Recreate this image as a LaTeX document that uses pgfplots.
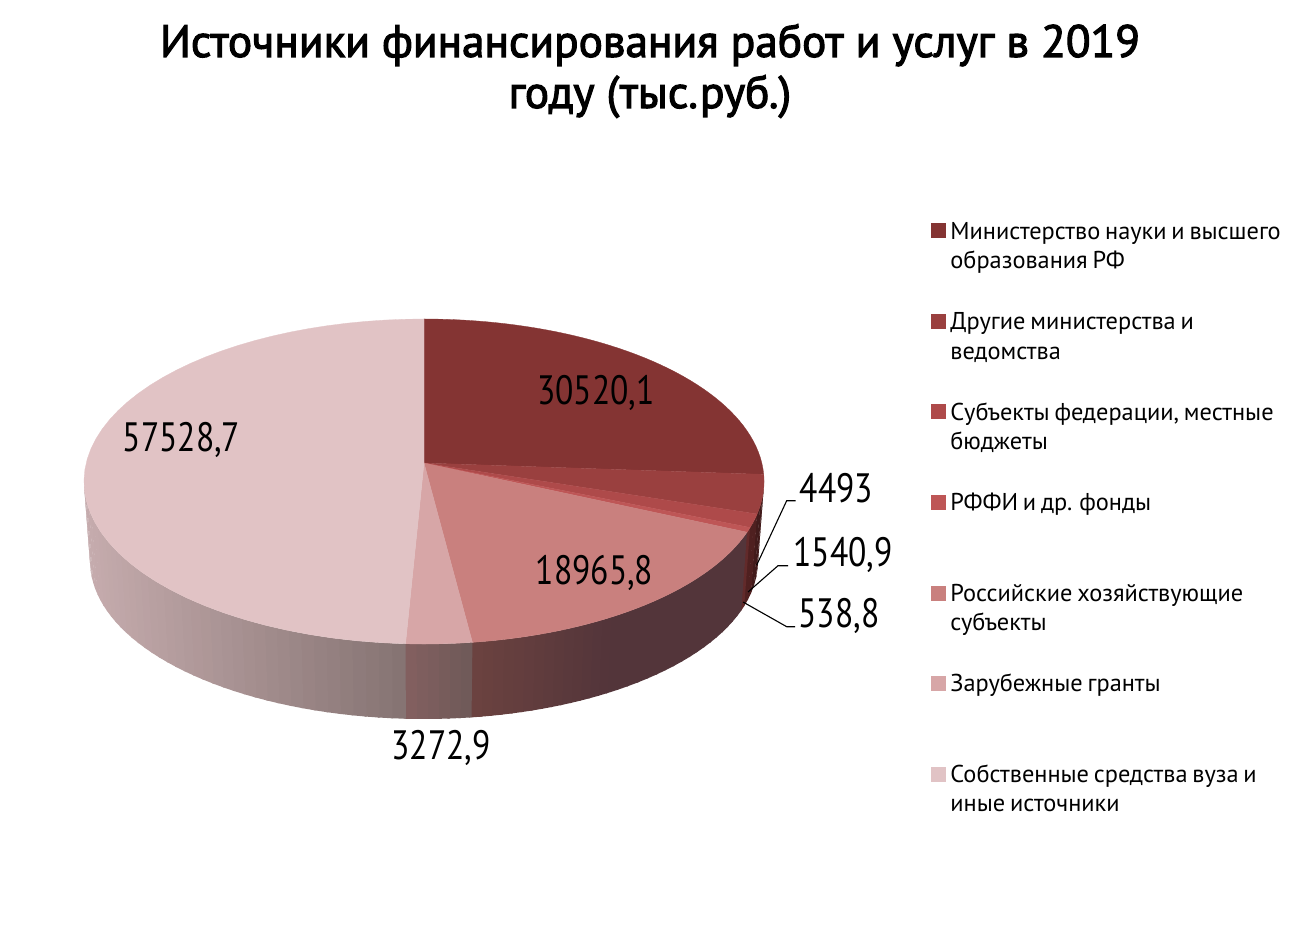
\documentclass[border=0pt]{standalone}
\usepackage{fontspec}
\usepackage{pgfplots}
\pgfplotsset{compat=1.18}
\setmainfont{PT Sans}
% source values (thousand roubles)
\def\total{116860.2}
\edef\tA{\fpeval{360*(30520.1)/\total}}
\edef\tB{\fpeval{360*(30520.1+4493)/\total}}
\edef\tC{\fpeval{360*(30520.1+4493+1540.9)/\total}}
\edef\tD{\fpeval{360*(30520.1+4493+1540.9+538.8)/\total}}
\edef\tE{\fpeval{360*(30520.1+4493+1540.9+538.8+18965.8)/\total}}
\edef\tF{\fpeval{360*(30520.1+4493+1540.9+538.8+18965.8+3272.9)/\total}}
\newcommand\RX[1]{\fpeval{round(424+337.8*sind(#1)/(1+0.1138*cosd(#1)),2)}}
\newcommand\RY[1]{\fpeval{round(463-160.4*cosd(#1)/(1+0.1138*cosd(#1)),2)}}
\newcommand\BX[1]{\fpeval{round(424+0.982*337.8*sind(#1)/(1+0.1138*cosd(#1)),2)}}
\newcommand\BY[1]{\fpeval{round(560+0.9695*(463-160.4*cosd(#1)/(1+0.1138*cosd(#1))-480),2)}}
\definecolor{sa}{HTML}{843433}
\definecolor{sb}{HTML}{9A403F}
\definecolor{sc}{HTML}{AE4A4A}
\definecolor{sd}{HTML}{BE5656}
\definecolor{se}{HTML}{C9807E}
\definecolor{sf}{HTML}{D7A6A7}
\definecolor{sg}{HTML}{E1C3C5}
% top wedge from angle #1 to #2 in colour #3
\newcommand\wedgeplot[3]{%
  \gdef\cl{(424,463)}%
  \foreach \i in {0,...,48}{%
    \edef\tv{\fpeval{#1+(#2-(#1))*\i/48}}%
    \xdef\cl{\cl (\RX{\tv},\RY{\tv})}%
  }%
  \edef\tmp{\noexpand\addplot[fill=#3,draw=#3,line width=0.3pt,forget plot] coordinates {\cl (424,463)};}\tmp
}
% side strips from #1 to #2, #3 strips, colour mixing (linear in x) from #4 (start) to #5 (end)
\newcommand\sideplot[5]{%
  \foreach \i in {1,...,#3}{%
    \edef\ta{\fpeval{#1+(#2-(#1))*(\i-1)/#3}}%
    \edef\tb{\fpeval{#1+(#2-(#1))*\i/#3+0.35}}%
    \edef\tm{\fpeval{\ta+(#2-(#1))*0.5/#3}}%
    \edef\p{\fpeval{round(100*(\RX{\tm}-\RX{#1})/(\RX{#2}-\RX{#1}),1)}}%
    \edef\tmp{\noexpand\addplot[fill={#5!\p!#4},draw=none,forget plot] coordinates {(\RX{\ta},\RY{\ta}) (\RX{\tb},\RY{\tb}) (\BX{\tb},\BY{\tb}) (\BX{\ta},\BY{\ta}) (\RX{\ta},\RY{\ta})};}\tmp
  }%
}
\definecolor{wa}{HTML}{421B1B}
\definecolor{wb}{HTML}{4F2020}
\definecolor{wc}{HTML}{622A2A}
\definecolor{wd}{HTML}{53353A}
\definecolor{wf}{HTML}{6C4240}
\definecolor{wg}{HTML}{846060}
\definecolor{wh}{HTML}{6E5A58}
\definecolor{wi}{HTML}{857372}
\definecolor{wj}{HTML}{C6ACAE}
\newcommand\lab[3]{\node[anchor=center,inner sep=0pt] at (axis cs:#1,#2) {\fontsize{41}{41}\selectfont\scalebox{0.82}[1]{#3}};}
\newcommand\leg[1]{\parbox[t]{345pt}{\raggedright\spaceskip=4.8pt\strut #1}}
\begin{document}
\begin{tikzpicture}
\path[use as bounding box] (0,0) rectangle (1299pt,945pt);
\begin{axis}[
  at={(0pt,0pt)},anchor=south west,
  scale only axis,width=1299pt,height=945pt,
  xmin=0,xmax=1299,ymin=0,ymax=945,y dir=reverse,
  hide axis,clip=false,
  legend image code/.code={\fill[#1] (0pt,-8pt) rectangle (13.5pt,6pt);\path (19pt,0pt);},
  legend style={at={(axis cs:931,218.5)},anchor=north west,draw=none,fill=none,
    inner sep=0pt,outer sep=0pt,
    row sep=68.4pt,column sep=0pt,
    nodes={inner sep=0pt,outer sep=0pt},
    font=\fontsize{24.35}{29.5}\selectfont},
  legend cell align=left,
  cells={anchor=base west},
  legend columns=1,
]
\addlegendimage{sa}\addlegendentry{\leg{Министерство науки и высшего\\образования РФ}}
\addlegendimage{sb}\addlegendentry{\leg{Другие министерства и\\ведомства}}
\addlegendimage{sc}\addlegendentry{\leg{Субъекты федерации, местные\\бюджеты}}
\addlegendimage{sd}\addlegendentry{\leg{РФФИ и др. фонды}}
\addlegendimage{se}\addlegendentry{\leg{Российские хозяйствующие\\субъекты}}
\addlegendimage{sf}\addlegendentry{\leg{Зарубежные гранты}}
\addlegendimage{sg}\addlegendentry{\leg{Собственные средства вуза и\\иные источники}}
% side wall, in angle order so that each strip covers the overlap of the one before
\sideplot{96.5}{\tB}{4}{wa}{wa}
\sideplot{\tB}{\tC}{2}{wb}{wb}
\sideplot{\tC}{\tD}{1}{wc}{wc}
\sideplot{\tD}{150}{18}{wd}{wd}
\sideplot{150}{\tE}{14}{wd}{wf}
\sideplot{\tE}{\tF}{6}{wh}{wg}
\sideplot{\tF}{263.5}{40}{wi}{wj}
% top surface
\wedgeplot{0}{\tA}{sa}
\wedgeplot{\tA}{\tB}{sb}
\wedgeplot{\tB}{\tC}{sc}
\wedgeplot{\tC}{\tD}{sd}
\wedgeplot{\tD}{\tE}{se}
\wedgeplot{\tE}{\tF}{sf}
\wedgeplot{\tF}{360}{sg}
% leader lines
\addplot[black,line width=1.1pt,forget plot] coordinates {(756.7,565) (786.7,500.7) (795.7,500.7)};
\addplot[black,line width=1.1pt,forget plot] coordinates {(748,592) (778,565.7) (788,565.7)};
\addplot[black,line width=1.1pt,forget plot] coordinates {(743,602) (786.7,626.7) (795,626.7)};
% labels
\lab{596}{392.5}{30520,1}
\lab{836.5}{488}{4493}
\lab{843}{555}{1540,9}
\lab{839}{616}{538,8}
\lab{594.5}{573}{18965,8}
\lab{441}{748}{3272,9}
\lab{181.5}{440}{57528,7}
\node[align=center,inner sep=0pt,font=\fontsize{45.3}{51}\addfontfeature{FakeBold=2.5}] at (axis cs:650,71) {Источники финансирования работ и услуг в 2019\\году (тыс.руб.)};
\end{axis}
\end{tikzpicture}
\end{document}
